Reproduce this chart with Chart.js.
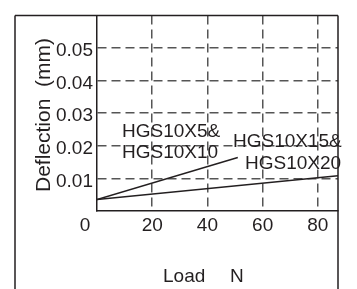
<!DOCTYPE html>
<html>
<head>
<meta charset="utf-8">
<script src="https://cdn.jsdelivr.net/npm/chart.js@4/dist/chart.umd.min.js"></script>
<style>
  body { margin: 0; background: #fff; }
  canvas { display: block; }
</style>
</head>
<body>
<canvas id="deflChart" width="357" height="289"></canvas>
<script>
// values
const loadTicks = [0, 20, 40, 60, 80];
const deflTicks = [0, 0.01, 0.02, 0.03, 0.04, 0.05, 0.06];
const loadMax = 87.3;
const deflMax = 0.06;

const loadSmall = [0, 51];          // HGS10X5 & HGS10X10
const deflSmall = [0.0035, 0.0164];
const loadLarge = [0, 87.3];        // HGS10X15 & HGS10X20
const deflLarge = [0.0035, 0.0108];

const ink = '#231f20';
const dashGrey = '#555555';
const font = "'Liberation Sans', Arial, sans-serif";

Chart.defaults.font.family = font;
Chart.defaults.color = ink;

function pts(xs, ys) {
  return xs.map((x, i) => ({ x: x, y: ys[i] }));
}

// frame, titles and series names
const extras = {
  id: 'extras',
  afterDraw(chart) {
    const ctx = chart.ctx;
    const a = chart.chartArea;
    const xs = chart.scales.x;
    ctx.save();
    ctx.strokeStyle = ink;
    ctx.lineWidth = 1.5;
    ctx.beginPath();
    ctx.moveTo(15, a.top);
    ctx.lineTo(a.right, a.top);
    ctx.moveTo(15, a.top);
    ctx.lineTo(15, 289);
    ctx.moveTo(a.right, a.top);
    ctx.lineTo(a.right, 289);
    ctx.stroke();

    ctx.fillStyle = ink;
    ctx.font = '19px ' + font;
    ctx.textAlign = 'left';
    ctx.textBaseline = 'alphabetic';
    ctx.fillText('HGS10X5&', 122, 137);
    ctx.fillText('HGS10X10', 122, 157.5);
    ctx.fillText('HGS10X15&', 233, 147);
    ctx.fillText('HGS10X20', 245, 169);

    ctx.fillText('Load', 163, 282);
    ctx.fillText('N', 230, 282);

    // shared origin label
    ctx.textAlign = 'center';
    ctx.textBaseline = 'middle';
    ctx.fillText('0', xs.getPixelForValue(0) - 12, a.bottom + 3 + 11.4);

    ctx.translate(44, 115);
    ctx.rotate(-Math.PI / 2);
    ctx.font = '21px ' + font;
    ctx.fillText('Deflection  (mm)', 0, 0);
    ctx.restore();
  }
};

new Chart(document.getElementById('deflChart').getContext('2d'), {
  type: 'line',
  data: {
    datasets: [{
      label: 'HGS10X5&HGS10X10',
      data: pts(loadSmall, deflSmall),
      borderColor: ink,
      borderWidth: 1.5,
      pointRadius: 0,
      fill: false
    }, {
      label: 'HGS10X15&HGS10X20',
      data: pts(loadLarge, deflLarge),
      borderColor: ink,
      borderWidth: 1.5,
      pointRadius: 0,
      fill: false
    }]
  },
  options: {
    responsive: false,
    animation: false,
    devicePixelRatio: 1,
    layout: { padding: { left: 0, right: 19, top: 4, bottom: 0 } },
    plugins: { legend: { display: false }, tooltip: { enabled: false } },
    scales: {
      x: {
        type: 'linear',
        min: 0,
        max: loadMax,
        afterBuildTicks: s => { s.ticks = loadTicks.map(v => ({ value: v })); },
        afterFit: s => { s.height = 78; },
        ticks: {
          font: { size: 19 },
          padding: 3,
          maxRotation: 0,
          callback: v => (v === 0 ? '' : String(v))
        },
        grid: {
          drawTicks: false,
          lineWidth: 1.5,
          color: c => (c.tick && c.tick.value === 0 ? 'rgba(0,0,0,0)' : dashGrey)
        },
        border: { display: true, color: ink, width: 1.5, dash: [9, 5] }
      },
      y: {
        min: 0,
        max: deflMax,
        afterBuildTicks: s => { s.ticks = deflTicks.map(v => ({ value: v })); },
        afterFit: s => { s.width = 97; },
        ticks: {
          font: { size: 19 },
          padding: 4,
          labelOffset: 3,
          callback: v => (v === 0 || v === deflMax ? '' : v.toFixed(2))
        },
        grid: {
          drawTicks: false,
          lineWidth: 1.5,
          color: c => (c.tick && (c.tick.value === 0 || c.tick.value === deflMax) ? 'rgba(0,0,0,0)' : dashGrey)
        },
        border: { display: true, color: ink, width: 1.5, dash: [9, 5] }
      }
    }
  },
  plugins: [extras]
});
</script>
</body>
</html>
